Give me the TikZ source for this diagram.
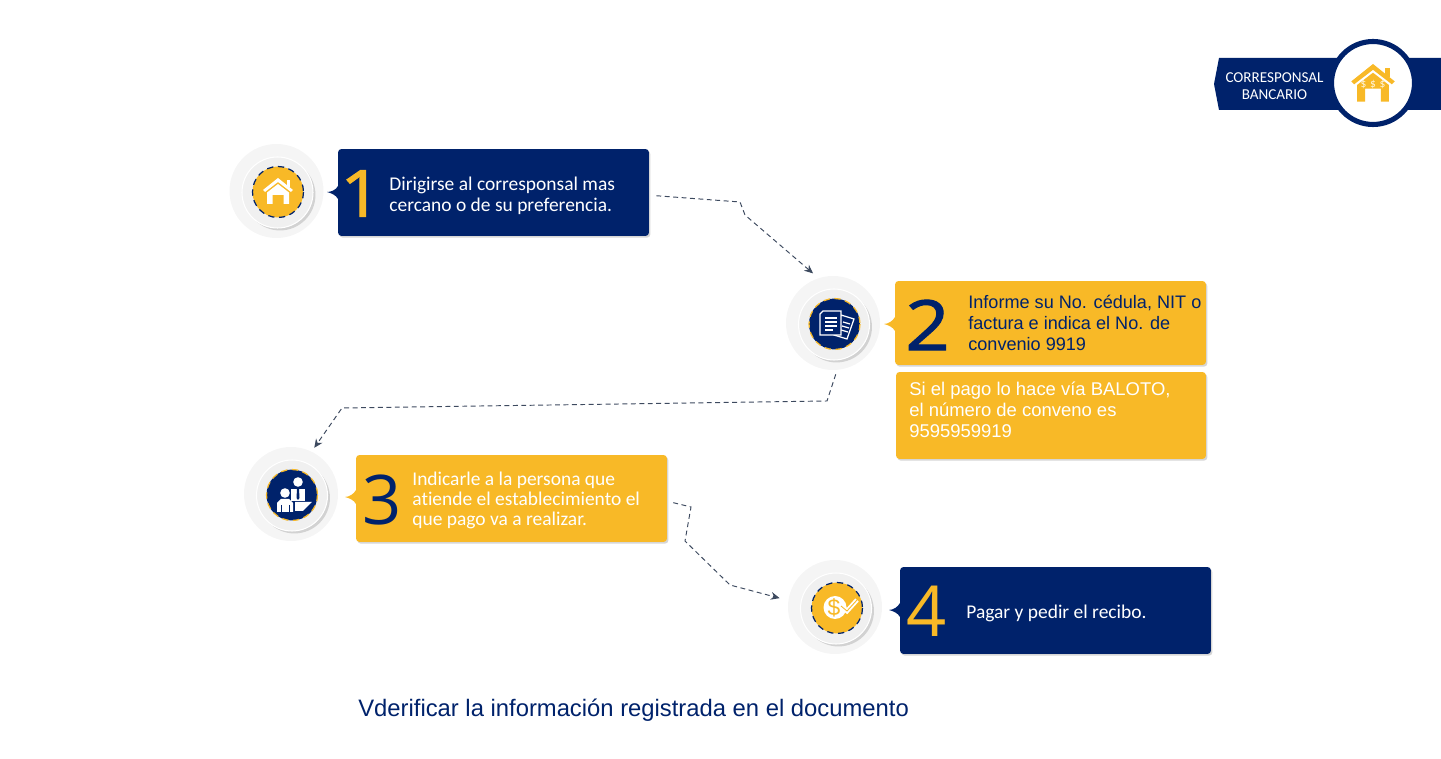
\documentclass[tikz,border=0pt]{standalone}
\usepackage{fontspec}
\setmainfont[Ligatures=CommonOff]{Carlito}
\newfontfamily\arialfont{Liberation Sans}
\newfontfamily\digitfont{Open Sans}
\newfontfamily\digitheavy[FakeBold=1.6,FakeStretch=1.12]{Open Sans}
\usetikzlibrary{shadows,arrows.meta}
\definecolor{navyblue}{HTML}{00226B}
\definecolor{goldbox}{HTML}{F8B927}
\definecolor{flowgray}{HTML}{3D4A5F}
\tikzset{
  softshadow/.style={drop shadow={shadow xshift=.8pt,shadow yshift=-1pt,opacity=.16,fill=black}},
  stepbox/.style={rounded corners=2pt,minimum width=6.22cm,minimum height=1.74cm,inner sep=0pt,softshadow},
  ringouter/.style={circle,fill=black!4,minimum size=1.88cm,inner sep=0pt},
  ringmid/.style={circle,fill=black!6,draw=white,line width=.6pt,minimum size=1.42cm,inner sep=0pt,
    drop shadow={shadow xshift=1.4pt,shadow yshift=-1.4pt,opacity=.14,fill=black}},
  ringcore/.style={circle,minimum size=1.02cm,inner sep=0pt},
  ringdash/.style={dash pattern=on 3.6pt off 2.6pt,line width=.7pt},
  stepnum/.style={inner sep=0pt,font=\digitfont\fontsize{39}{39}\selectfont},
  steptext/.style={inner sep=0pt,anchor=west,align=left,font=\fontsize{11.08}{11.6}\selectfont},
  arialtext/.style={inner sep=0pt,anchor=west,align=left,font=\arialfont\fontsize{10.3}{11.9}\selectfont},
  flowline/.style={draw=flowgray,line width=.55pt,dash pattern=on 2.8pt off 2pt,-{Stealth[length=5pt,width=4.4pt]}},
  houseicon/.pic={
    \fill[pic actions] (-15,12) -- (0,0) -- (15,12) -- (13,14) -- (0,4) -- (-13,14) -- cycle;
    \fill[pic actions] (8.5,2.5) rectangle (12,9);
    \fill[pic actions] (-11,14.5) -- (0,6) -- (11,14.5) -- (11,26) -- (5.5,26) -- (5.5,17) -- (-5.5,17) -- (-5.5,26) -- (-11,26) -- cycle;
  }
}
\begin{document}
\begin{tikzpicture}[x=0.02cm,y=-0.02cm]
  \useasboundingbox (0,0) rectangle (1441,759);

  % banner
  \fill[navyblue] (1214,84) -- (1219,58) -- (1441,58) -- (1441,110) -- (1219,110) -- cycle;
  \node[circle,fill=white,draw=navyblue,line width=2.9pt,minimum size=1.66cm,inner sep=0pt] (bannerring) at (1373,83) {};
  \node[inner sep=0pt,align=center,text=white,font=\fontsize{8.6}{9.7}\selectfont] (bannertext) at (1274.5,86) {CORRESPONSAL\\BANCARIO};
  \pic[fill=goldbox,scale=1.45] at (1373,64) {houseicon};
  \node[inner sep=0pt,text=white!85!goldbox,font=\fontsize{6.5}{6.5}\selectfont] (bannermoney) at (1373,85) {\$\,\,\$\,\,\$};

  % boxes
  \node[stepbox,fill=navyblue] (box1) at (493.5,192.5) {};
  \node[stepbox,fill=goldbox,minimum height=1.68cm] (box2) at (1050.5,323) {};
  \node[stepbox,fill=goldbox,minimum width=6.2cm] (box2b) at (1051,415.5) {};
  \node[stepbox,fill=goldbox] (box3) at (511.5,498.5) {};
  \node[stepbox,fill=navyblue] (box4) at (1055.5,610.5) {};
  \fill[navyblue] (338,186) .. controls (336,190) and (331,192) .. (327,192) .. controls (331,193) and (336,195) .. (338,199) -- cycle;
  \fill[goldbox] (895,317) .. controls (893,321) and (888,324) .. (884,324) .. controls (888,325) and (893,327) .. (895,331) -- cycle;
  \fill[goldbox] (356,490) .. controls (354,494) and (349,497) .. (345,497) .. controls (349,498) and (354,500) .. (356,504) -- cycle;
  \fill[navyblue] (900,603) .. controls (898,607) and (893,610) .. (889,610) .. controls (893,611) and (898,613) .. (900,617) -- cycle;

  % badges
  \node[ringouter] (badge1) at (276.5,191) {};
  \node[ringmid] (mid1) at (277.5,192.5) {};
  \node[ringcore,fill=goldbox] (core1) at (278,192) {};
  \draw[ringdash,navyblue] (core1) circle (25.5);
  \node[ringouter] (badge2) at (833,323) {};
  \node[ringmid] (mid2) at (834,324.5) {};
  \node[ringcore,fill=navyblue] (core2) at (834.5,324) {};
  \draw[ringdash,goldbox] (core2) circle (25.5);
  \node[ringouter] (badge3) at (291,494) {};
  \node[ringmid] (mid3) at (292,495.5) {};
  \node[ringcore,fill=navyblue] (core3) at (292,495) {};
  \draw[ringdash,goldbox] (core3) circle (25.5);
  \node[ringouter] (badge4) at (835,607) {};
  \node[ringmid] (mid4) at (836,608.5) {};
  \node[ringcore,fill=goldbox] (core4) at (837,608) {};
  \draw[ringdash,navyblue] (core4) circle (25.5);

  % icons
  \pic[fill=white] at (278,178) {houseicon};
  \begin{scope}[white,line width=.7pt]
    \fill[navyblue] (841,315) -- (854,319) -- (847,339) -- (834,335) -- cycle;
    \draw (841,315) -- (854,319) -- (847,339) -- (834,335) -- cycle;
    \draw (843,322) -- (850,324) (842,326) -- (849,328) (841,330) -- (848,332);
    \fill[navyblue] (823,311) -- (841,311) -- (841,335) -- (820,335) -- (820,314) -- cycle;
    \draw (823,311) -- (841,311) -- (841,335) -- (820,335) -- (820,314) -- cycle;
    \draw[line width=1pt] (825,318) -- (837,318) (825,322) -- (837,322) (825,326) -- (837,326) (825,330) -- (833,330);
  \end{scope}
  \begin{scope}[white]
    \fill (298,482) circle (4.8);
    \fill (291,489) -- (305,489) -- (305,501) -- (291,501) -- cycle;
    \fill (295,502) -- (312,502) -- (303,511) -- (295,511) -- cycle;
    \fill[navyblue] (297,489) -- (299,489) -- (299.5,498) -- (298,500) -- (296.5,498) -- cycle;
    \fill (285,493) circle (4.8);
    \fill (277,512) -- (277,503) -- (281,499) -- (289,499) -- (293,503) -- (293,512) -- cycle;
    \draw[navyblue,line width=.5pt] (281.5,505) -- (281.5,512) (289,505) -- (289,512);
  \end{scope}
  \fill[white] (835,607.5) circle (11.5);
  \node[inner sep=0pt,text=goldbox,font=\arialfont\fontsize{13}{13}\selectfont] (dollar) at (834,607.5) {\$};
  \draw[white,line width=2.6pt] (841,606) -- (847,611) -- (857,600);
  \draw[goldbox,line width=.5pt] (841,606) -- (847,611) -- (857,600);

  % numbers
  \node[stepnum,text=goldbox,font=\digitheavy\fontsize{37}{37}\selectfont] (num1) at (361,193.5) {1};
  \node[stepnum,text=navyblue,font=\digitheavy\fontsize{39.5}{39.5}\selectfont] (num2) at (927.5,325) {2};
  \node[stepnum,text=navyblue] (num3) at (382,500) {3};
  \node[stepnum,text=goldbox,font=\digitfont\fontsize{40}{40}\selectfont] (num4) at (926.5,611.5) {4};

  % texts
  \node[steptext,text=white] (text1) at (389,196) {Dirigirse al corresponsal mas\\cercano o de su preferencia.};
  \node[arialtext,text=navyblue] (text2) at (968,323) {Informe su No. cédula, NIT o\\factura e indica el No. de\\convenio 9919};
  \node[arialtext,text=white,font=\arialfont\fontsize{10.5}{11.9}\selectfont] (text2b) at (909,410) {Si el pago lo hace vía BALOTO,\\el número de conveno es\\9595959919};
  \node[steptext,text=white] (text3) at (412,500.5) {Indicarle a la persona que\\atiende el establecimiento el\\que pago va a realizar.};
  \node[steptext,text=white] (text4) at (966,613.5) {Pagar y pedir el recibo.};
  \node[inner sep=0pt,anchor=west,text=navyblue,font=\arialfont\fontsize{13.55}{13.55}\selectfont] (notetext) at (358,710) {Vderificar la información registrada en el documento};

  % connectors
  \coordinate (bend1a) at (740,202);
  \coordinate (bend1b) at (745,215);
  \coordinate (bend2a) at (827,401);
  \coordinate (bend2b) at (342,408);
  \coordinate (bend3a) at (691,507);
  \coordinate (bend3b) at (685,541);
  \coordinate (bend3c) at (730,585);
  \draw[flowline,shorten <=4pt,shorten >=4pt] (box1.-1.2) -- (bend1a) -- (bend1b) -- (badge2.108);
  \draw[flowline,shorten <=2.5pt,shorten >=2.5pt] (badge2.-85) -- (bend2a) -- (bend2b) -- (badge3.64);
  \draw[flowline,shorten <=3.5pt,shorten >=5pt] (box3.-1) -- (bend3a) -- (bend3b) -- (bend3c) -- (badge4.172);
\end{tikzpicture}
\end{document}
